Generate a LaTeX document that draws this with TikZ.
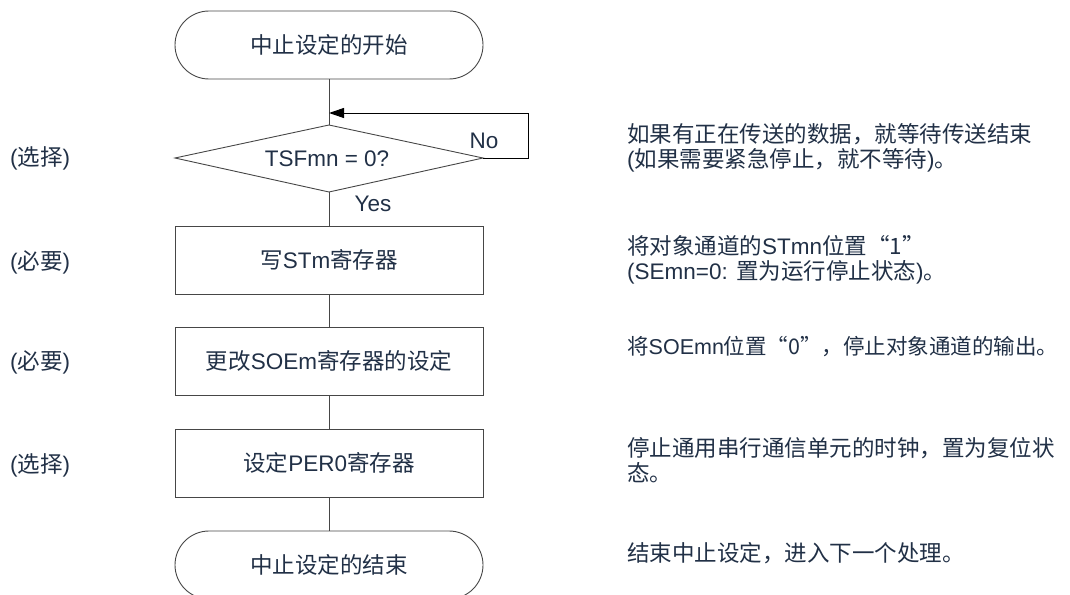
\documentclass[tikz,border=0pt]{standalone}
\usepackage{fontspec}
\setmainfont{Liberation Sans}
\newfontfamily\cjk{Noto Sans CJK SC}
\newcommand\C[1]{{\cjk #1}}
\usetikzlibrary{shapes.geometric,arrows.meta}
\definecolor{txt}{RGB}{33,48,70}
\definecolor{ln}{RGB}{70,70,70}
\begin{document}
\begin{tikzpicture}[x=1pt,y=-1pt,
  every node/.style={font=\fontsize{22.5}{25}\selectfont, text=txt},
  term/.style={draw=ln, line width=0.9pt, rounded corners=34pt, minimum width=308pt, minimum height=68pt, inner sep=0pt},
  proc/.style={draw=ln, line width=0.9pt, minimum width=308pt, minimum height=68pt, inner sep=0pt},
  decline/.style={draw=ln, line width=0.9pt},
  conn/.style={draw=ln, line width=1pt},
  loopline/.style={draw=black, line width=1pt},
  note/.style={anchor=west, align=left, inner sep=0pt},
  side/.style={anchor=west, inner sep=0pt}]
\useasboundingbox (0,0) rectangle (1070,594);

% flow nodes
\node[term] (start) at (329,45) {\C{中止设定的开始}};
\node[inner sep=0pt] (dec) at (327,159) {TSFmn = 0?};
\coordinate (dN) at (329,125);
\coordinate (dS) at (329,192);
\coordinate (dW) at (175,158);
\coordinate (dE) at (483,158);
\draw[decline] (dN) -- (dE) -- (dS) -- (dW) -- cycle;
\node[proc] (b1)    at (329,260) {\C{写}STm\C{寄存器}};
\node[proc] (b2)    at (329,361) {\C{更改}SOEm\C{寄存器的设定}};
\node[proc] (b3)    at (329,463) {\C{设定}PER0\C{寄存器}};
\node[term] (stop)  at (329,565) {\C{中止设定的结束}};

% connectors
\coordinate (merge) at (329,113);
\coordinate (loopx) at (528,0);
\draw[conn] (start.south) -- (dN);
\draw[loopline] (dE) -- (dE -| loopx) -- (merge -| loopx);
\draw[loopline, -{Triangle[length=15pt,width=10pt,fill=black]}] (merge -| loopx) -- (merge);
\draw[conn] (dS) -- (b1.north);
\draw[conn] (b1.south) -- (b2.north);
\draw[conn] (b2.south) -- (b3.north);
\draw[conn] (b3.south) -- (stop.north);

% branch labels
\node (no)  at (484,141) {No};
\node (yes) at (373,204) {Yes};

% side labels
\node[side] (s1) at (10,158) {(\C{选择})};
\node[side] (s2) at (10,262) {(\C{必要})};
\node[side] (s3) at (10,362) {(\C{必要})};
\node[side] (s4) at (10,465) {(\C{选择})};

% notes
\node[note] (n1) at (627,148) {\C{如果有正在传送的数据，就等待传送结束}\\(\C{如果需要紧急停止，就不等待})\C{。}};
\node[note] (n2) at (627,260) {\C{将对象通道的}STmn\C{位置“1”}\\(SEmn=0: \C{置为运行停止状态})\C{。}};
\node[note, font=\fontsize{21.5}{25}\selectfont] (n3) at (627,347) {\C{将}SOEmn\C{位置“0”，停止对象通道的输出。}};
\node[note] (n4) at (627,460) {\C{停止通用串行通信单元的时钟，置为复位状}\\\C{态。}};
\node[note] (n5) at (627,553) {\C{结束中止设定，进入下一个处理。}};
\end{tikzpicture}
\end{document}
